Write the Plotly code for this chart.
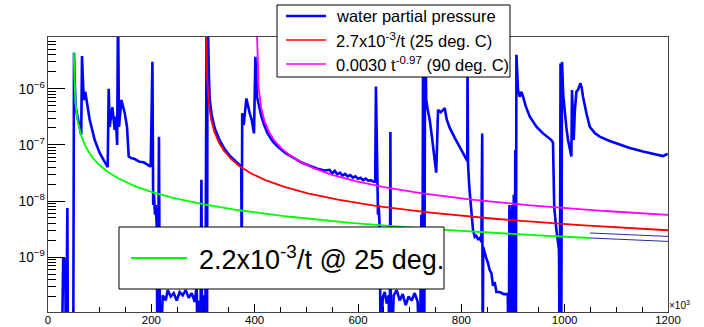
import numpy as np
import plotly.graph_objects as go

BOT = 1e-11   # below visible range (line runs off the bottom)
TOP = 3e-5    # above visible range (line runs off the top)

# time (x10^3 s) and water partial pressure
blue_time = [
    0, 26.5, 29.4, 31.4, 33.3, 34.8, 37.5, 38.7, 48.8,
    50.3, 51.7, 53.6, 57.5, 61.4, 64.3, 65.8, 67.7, 69.1, 72.0, 74.9, 80.7, 90.4, 100, 109.7, 115.5,
    117.5, 119.4, 122.3, 124.6, 129.1, 131.0, 133.9, 135.5, 137.4, 142.1, 148.5, 152.9, 156.2, 161.4, 167.8, 177.5, 185.2, 193.6, 198.8,
    202.1, 203.6, 205.2, 207.1, 208.5, 210.4, 211.9, 214.8, 216.8,
    222, 227.8, 231.7, 237.5, 243.3, 249.1, 254.9, 260.7, 266.5, 272.3, 278.1, 284.0, 287.8, 289.7, 291.7, 294.6, 296.9, 298.5, 301.4, 304.3,
    307.0, 307.8, 308.7, 311.6, 313.0, 316.8, 322.6, 332.3, 342.0, 351.7, 361.4, 374.0,
    374.9, 375.9, 378.8, 384.0, 390.4, 394.3, 398.7, 401.4, 404.5,
    413, 418, 425, 435, 445, 460, 475, 490, 505, 520, 535, 545, 550, 555, 560, 565, 570, 575, 580, 585,
    590, 595, 600, 605, 610, 615, 620, 625, 630, 633.3,
    634.7, 636.2, 637.2, 638.7, 640, 642, 644,
    647.8, 651.7, 655.5, 659.4, 661.4, 662.7, 663.9, 669.1, 674.9, 680.7, 686.5, 692.3, 698.1, 703.9, 709.7, 715.5, 719.5,
    722.7, 724.3, 726.2, 728.1, 730.1,
    732, 735, 738.8, 742.6, 746.5, 751.4, 753.3, 754.9, 760.1, 764, 767.9, 771.8, 777.6, 787.3, 797, 806.6, 811.5,
    811.9, 813.1, 815.4, 817.4, 819.7, 822.6, 826, 828.9, 832.3, 835.6, 838.8, 840.4, 841.4,
    842.3, 845.2, 848.1, 851.6, 854.9, 858.2, 861.3, 864.6, 867.9, 874.4, 882.1, 889.8,
    891.7, 893.1, 894.2, 895.6, 897, 898.6, 900.1, 901.5, 903, 904.4, 905.6, 906.6,
    909.7, 913, 916.3, 919.4, 924.6, 932.3, 945.3, 958.1, 974.3, 977.4, 979.8, 984, 986.5, 989, 990.4, 992, 993.3, 994.9,
    997.2, 1000.1, 1003.4, 1006.5, 1009.8, 1013, 1014.2, 1015.5, 1017.5, 1019.8, 1022.7, 1025.8, 1030.5, 1033, 1035.5,
    1042.1, 1048.5, 1058.2, 1067.8, 1087.2, 1106.6, 1126, 1151.7, 1174.3, 1190.4, 1197, 1199.5,
]
blue_pressure = [
    BOT, BOT, 9.7e-10, 4.8e-10, 9.7e-10, BOT, 7.5e-9, BOT, BOT,
    4.3e-6, 1.4e-6, 4.7e-7, 3.0e-7, 2.0e-7, 1.5e-7, 3.8e-6, 9.5e-7, 6.3e-7, 8.8e-7, 5.9e-7, 2.8e-7, 1.22e-7, 7.2e-8, 5.0e-8, 4.0e-8,
    1.0e-6, 2.1e-7, 3.4e-7, 4.7e-7, 1.84e-7, 3.2e-7, 1.0e-7, TOP, 2.1e-7, 6.3e-7, 3.7e-7, 2.1e-7, 6.2e-8, 5.8e-8, 5.6e-8, 5.0e-8, 4.9e-8, 4.4e-8, 4.1e-8,
    3.0e-6, 8.5e-9, 1.3e-8, 5.7e-9, 8.5e-9, 3.8e-9, BOT, 1.4e-7, BOT,
    2.1e-10, 1.7e-10, 2.6e-10, 2.0e-10, 2.3e-10, 1.7e-10, 2.4e-10, 2.1e-10, 2.6e-10, 1.9e-10, 2.3e-10, 1.6e-10, 3.2e-10, BOT, 1.7e-10, BOT, 2.4e-8, BOT, 2.1e-10, BOT,
    TOP, BOT, TOP, 1.6e-6, 6.5e-7, 3.4e-7, 2.0e-7, 1.2e-7, 8.4e-8, 6.4e-8, 5.2e-8, 4.1e-8,
    7e-10, 3.65e-7, 2.26e-7, 6.7e-7, 3.65e-7, 2.8e-7, 1.6e-7, 3.7e-6, 7.2e-7,
    3.2e-7, 2.3e-7, 1.6e-7, 1.15e-7, 9.2e-8, 7.1e-8, 5.8e-8, 4.9e-8, 4.3e-8, 3.8e-8, 3.5e-8, 3.6e-8, 3.1e-8, 3.45e-8, 3.0e-8, 3.2e-8, 2.85e-8, 3.05e-8, 2.75e-8, 2.9e-8,
    2.6e-8, 2.75e-8, 2.5e-8, 2.6e-8, 2.35e-8, 2.5e-8, 2.3e-8, 2.35e-8, 2.2e-8, 2.2e-8,
    1.09e-6, 5.4e-8, 1.04e-8, 5.7e-9, 8.5e-9, 3.3e-9, BOT,
    1.9e-10, 2.4e-10, 1.5e-10, 2.1e-10, BOT, 1.7e-7, BOT, 2.1e-10, 2.6e-10, 1.7e-10, 2.2e-10, 1.4e-10, 2.0e-10, 1.7e-10, 2.3e-10, 1.6e-10, BOT,
    5.7e-9, BOT, TOP, BOT, TOP,
    6.3e-7, 4.2e-7, 2.8e-7, 1.5e-7, 8.1e-8, 3.2e-8, 1.22e-7, 4.2e-7, 3.8e-7, 4.2e-7, 4.5e-7, 2.8e-7, 2.0e-7, 1.33e-7, 9.2e-8, 6.6e-8, 5.2e-8,
    3.0e-6, 4.4e-8, 1.78e-8, 1.05e-8, 5.2e-9, 3.05e-9, 2.3e-9, 2.4e-9, 2.1e-9, 2.2e-9, 1.86e-9, 1.6e-7, BOT,
    1.52e-9, 1.19e-9, 9.7e-10, 7.9e-10, 5.9e-10, 5.2e-10, 3.1e-10, 3.6e-10, 2.4e-10, 2.4e-10, 2.2e-10, 2.2e-10,
    BOT, 8.5e-9, BOT, 6.9e-9, BOT, 8.5e-9, BOT, 1.3e-8, BOT, 8.1e-8, BOT, 4.0e-6,
    9.5e-7, 7.2e-7, 8.8e-7, 7.2e-7, 4.9e-7, 3.2e-7, 2.1e-7, 1.6e-7, 1.22e-7, 1.1e-7, 7.9e-9, 3.05e-9, 2.0e-9, 1.35e-9, BOT, 2.8e-6, BOT, 3.0e-6,
    7.8e-7, 3.65e-7, 2.0e-7, 1.22e-7, 8.1e-8, 6.2e-8, 9.5e-7, 3.0e-7, 1.22e-7, 4.2e-7, 8.8e-7, 9.5e-7, 1.25e-6, 1.03e-6, 7.2e-7,
    3.65e-7, 2.1e-7, 1.63e-7, 1.4e-7, 1.17e-7, 1.0e-7, 8.8e-8, 7.6e-8, 6.8e-8, 6.3e-8, 6.8e-8, 6.6e-8,
]

# fitted curves (coefficients from the legend, start times, x10^3 s)
fit25_coef, fit25_start = 2.7e-3, 306.3
fit90_coef, fit90_power, fit90_start = 3.0e-3, -0.97, 404.0
fitG_coef, fitG_start, fitG_end = 2.2e-3, 49.2, 1049.0
ext_coefs = [2.7e-3, 2.2e-3]
x_max = 1200.0

t25 = np.geomspace(0.3, x_max - fit25_start, 400)
t90 = np.geomspace(0.35, x_max - fit90_start, 400)
tG = np.geomspace(0.49, fitG_end - fitG_start, 400)
xext = np.linspace(fitG_end, x_max, 60)

fig = go.Figure()
fig.add_trace(go.Scatter(x=blue_time, y=blue_pressure, mode="lines",
                         line=dict(color="#0000ff", width=2.6)))
for c in ext_coefs:
    fig.add_trace(go.Scatter(x=xext, y=c / ((xext - fitG_start) * 1e3), mode="lines",
                             line=dict(color="#2a2aa8", width=1)))
fig.add_trace(go.Scatter(x=fit25_start + t25, y=fit25_coef / (t25 * 1e3), mode="lines",
                         line=dict(color="#ff0000", width=1.8)))
fig.add_trace(go.Scatter(x=fit90_start + t90, y=fit90_coef * (t90 * 1e3) ** fit90_power, mode="lines",
                         line=dict(color="#ff00ff", width=1.8)))
fig.add_trace(go.Scatter(x=fitG_start + tG, y=fitG_coef / (tG * 1e3), mode="lines",
                         line=dict(color="#00ff00", width=1.8)))

FONT = "Liberation Sans, Arial, Helvetica, sans-serif"
L, R, T, B, W, H = 48, 36, 37, 15, 704, 327
PW, PH = W - L - R, H - T - B


def px(xp):
    return (xp - L) / PW


def py(yp):
    return (H - B - yp) / PH


shapes = []
annotations = []
# upper legend
shapes.append(dict(type="rect", xref="paper", yref="paper", x0=px(277), x1=px(510), y0=py(77), y1=py(5),
                   line=dict(color="black", width=1), fillcolor="white", layer="above"))
legend_rows = [("water partial pressure", "#0000ff", 2.6, 16),
               ("2.7x10<sup>-3</sup>/t (25 deg. C)", "#ff0000", 1.5, 40),
               ("0.0030 t<sup>-0.97</sup> (90 deg. C)", "#ff00ff", 1.5, 64)]
for text, col, w, yy in legend_rows:
    shapes.append(dict(type="line", xref="paper", yref="paper", x0=px(286), x1=px(326), y0=py(yy), y1=py(yy),
                       line=dict(color=col, width=w), layer="above"))
    annotations.append(dict(xref="paper", yref="paper", x=px(334), y=py(yy), text=text, showarrow=False,
                            xanchor="left", yanchor="middle", font=dict(size=16.5, color="black", family=FONT)))
# lower legend
shapes.append(dict(type="rect", xref="paper", yref="paper", x0=px(119), x1=px(444), y0=py(289), y1=py(227),
                   line=dict(color="black", width=1), fillcolor="white", layer="above"))
shapes.append(dict(type="line", xref="paper", yref="paper", x0=px(131), x1=px(187), y0=py(258), y1=py(258),
                   line=dict(color="#00ff00", width=1.8), layer="above"))
annotations.append(dict(xref="paper", yref="paper", x=px(197), y=py(258), text="2.2x10<sup>-3</sup>/t @ 25 deg.",
                        showarrow=False, xanchor="left", yanchor="middle",
                        font=dict(size=27, color="black", family=FONT)))
annotations.append(dict(xref="paper", yref="paper", x=px(667), y=py(305), text="×10<sup>3</sup>",
                        showarrow=False, xanchor="left", yanchor="middle",
                        font=dict(size=10, color="black", family=FONT)))

fig.update_layout(
    width=W, height=H, margin=dict(l=L, r=R, t=T, b=B, autoexpand=False),
    plot_bgcolor="white", paper_bgcolor="white", showlegend=False,
    font=dict(family=FONT, color="black"),
    shapes=shapes, annotations=annotations,
    xaxis=dict(range=[0, x_max], tick0=0, dtick=200, ticks="inside", ticklen=8, tickcolor="black",
               automargin=False, ticklabelstandoff=-3,
               showline=True, linecolor="#444", linewidth=1, mirror=True, showgrid=False, zeroline=False,
               tickfont=dict(size=11.5), minor=dict(dtick=50, ticks="inside", ticklen=5, tickcolor="black")),
    yaxis=dict(type="log", range=[-9.975, -5.08], dtick=1, exponentformat="power", ticks="inside", ticklen=17,
               automargin=False,
               tickcolor="black", showline=True, linecolor="#444", linewidth=1, mirror=True, showgrid=False,
               zeroline=False, tickfont=dict(size=11),
               minor=dict(dtick="D1", ticks="inside", ticklen=8, tickcolor="black")),
)

fig.write_html("out.html", config={"displayModeBar": False},
               post_script="document.body.style.margin='0';document.body.style.overflow='hidden';")
